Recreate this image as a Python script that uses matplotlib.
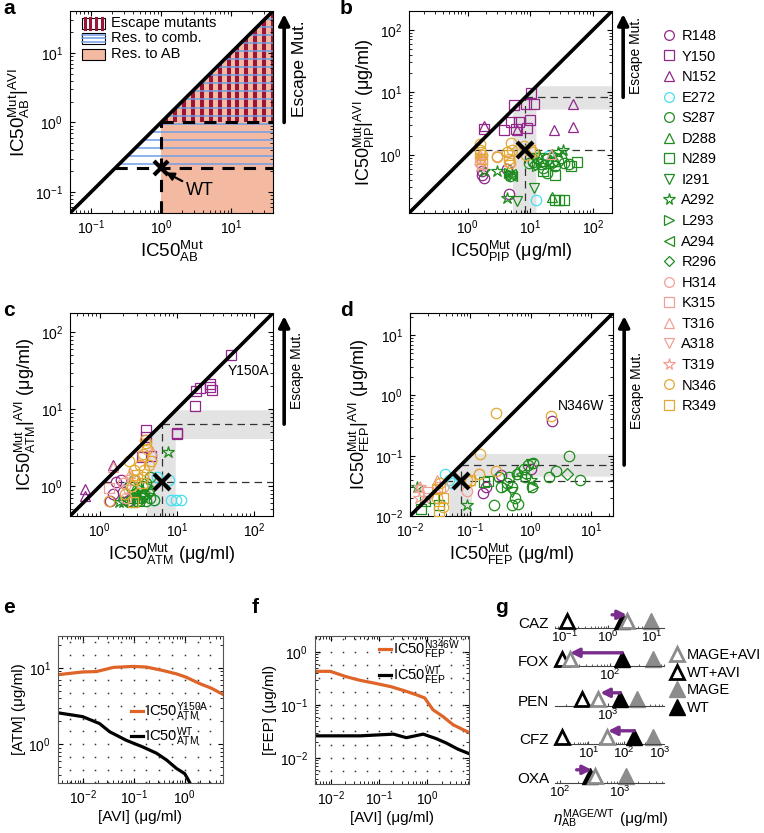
import numpy as np
import matplotlib
matplotlib.use("Agg")
import matplotlib.pyplot as plt
from matplotlib.lines import Line2D
from matplotlib.patches import Polygon, Rectangle
from matplotlib.ticker import LogLocator

plt.rcParams['font.family'] = ['Liberation Sans', 'DejaVu Sans']
plt.rcParams['mathtext.fontset'] = 'custom'
plt.rcParams['mathtext.rm'] = 'Liberation Sans'
plt.rcParams['mathtext.it'] = 'Liberation Sans:italic'
plt.rcParams['mathtext.bf'] = 'Liberation Sans:bold'
plt.rcParams['xtick.direction'] = 'in'
plt.rcParams['ytick.direction'] = 'in'
plt.rcParams['xtick.top'] = True
plt.rcParams['ytick.right'] = True
plt.rcParams['xtick.labelsize'] = 10
plt.rcParams['ytick.labelsize'] = 10
plt.rcParams['xtick.major.pad'] = 4
plt.rcParams['ytick.major.pad'] = 5
plt.rcParams['axes.linewidth'] = 0.8

# ---- mutants legend (panels b-d)
mutants = ["R148", "Y150", "N152", "E272", "S287", "D288", "N289", "I291", "A292", "L293",
           "A294", "R296", "H314", "K315", "T316", "A318", "T319", "N346", "R349"]
mut_markers = ['o', 's', '^', 'o', 'o', '^', 's', 'v', '*', '>', '<', 'D', 'o', 's', '^', 'v', '*', 'o', 's']
PUR, CYA, GRN, PNK, GLD = '#92268A', '#45E0F0', '#1E8C1E', '#F0A096', '#E3A832'
mut_colors = [PUR] * 3 + [CYA] + [GRN] * 8 + [PNK] * 5 + [GLD] * 2

# ---- panel a (schematic)
a_lim = (0.05, 40)
a_wt = (1.0, 0.22)

# ---- panel b: PIP
pip_lim = (0.117, 200)
pip_wt = (8.3, 1.2)
pip_band = (5.3, 12.5)
pip_pts = [
    ("Y150", 10.2, 9.7), ("Y150", 8.5, 6.6), ("Y150", 11.5, 6.4), ("Y150", 5.4, 6.3), ("Y150", 4.9, 3.3),
    ("Y150", 6.6, 3.3), ("Y150", 10, 3.6), ("Y150", 8.7, 2.7), ("Y150", 3.8, 2.5), ("Y150", 6.0, 2.6),
    ("Y150", 1.8, 2.6),
    ("N152", 1.8, 2.9), ("N152", 47, 6.6), ("N152", 24, 2.5), ("N152", 48, 2.8), ("N152", 6.1, 2.5),
    ("R148", 1.7, 0.55), ("R148", 1.7, 0.48), ("R148", 1.8, 0.42), ("R148", 4.6, 0.24), ("R148", 4.3, 0.6),
    ("E272", 12.5, 0.19), ("E272", 19, 0.95),
    ("S287", 11, 0.77), ("S287", 14.7, 0.7), ("S287", 18.5, 0.87), ("S287", 23, 0.77), ("S287", 28, 0.8),
    ("S287", 35, 0.74), ("S287", 41, 0.7), ("S287", 18.5, 0.52), ("S287", 13, 0.9), ("S287", 16, 0.62),
    ("S287", 9.5, 0.75), ("S287", 25, 0.65), ("S287", 31, 0.9), ("S287", 4.8, 0.45),
    ("D288", 22, 0.21), ("D288", 20, 0.8), ("D288", 4.5, 0.6),
    ("N289", 56, 0.77), ("N289", 25, 0.48), ("N289", 25, 0.19), ("N289", 29, 0.19), ("N289", 34, 0.19),
    ("N289", 45, 0.65), ("N289", 16, 0.55),
    ("I291", 11.5, 0.29), ("I291", 6.1, 0.18), ("I291", 4.6, 0.45), ("I291", 12, 0.9),
    ("A292", 4.2, 0.2), ("A292", 33, 1.2), ("A292", 28, 1.1), ("A292", 14, 1.0), ("A292", 3.0, 0.54),
    ("A292", 1.8, 0.55), ("A292", 22, 1.0),
    ("L293", 4.9, 0.47), ("L293", 4.6, 0.52), ("L293", 13, 0.65),
    ("A294", 4.9, 0.5), ("A294", 5.1, 0.45), ("A294", 15, 0.7),
    ("R296", 22, 0.75), ("R296", 12, 0.7),
    ("H314", 1.6, 0.9), ("H314", 3.0, 0.95), ("H314", 1.6, 0.75),
    ("K315", 1.7, 0.7), ("K315", 4.5, 0.8),
    ("T316", 1.6, 1.0), ("T316", 21, 1.03),
    ("A318", 1.7, 0.8), ("T319", 1.6, 0.65),
    ("N346", 1.6, 1.5), ("N346", 1.6, 1.2), ("N346", 3.0, 0.92), ("N346", 4.9, 1.55), ("N346", 5.2, 1.2),
    ("N346", 4.5, 0.85), ("N346", 7.9, 1.4), ("N346", 11, 1.1), ("N346", 4.2, 1.1), ("N346", 4.7, 0.75),
    ("N346", 1.7, 1.0), ("N346", 8.5, 1.0),
    ("R349", 1.6, 1.1), ("R349", 4.5, 1.0), ("R349", 10, 1.2), ("R349", 1.7, 0.85),
]

# ---- panel c: ATM
atm_lim = (0.41, 178)
atm_wt = (6.4, 1.15)
atm_band = (4.1, 9.7)
atm_pts = [
    ("Y150", 51, 50), ("Y150", 18, 17), ("Y150", 20, 19), ("Y150", 27, 21), ("Y150", 29, 18),
    ("Y150", 27, 19.5), ("Y150", 17, 11), ("Y150", 10, 4.9), ("Y150", 10, 4.7), ("Y150", 4.0, 5.3),
    ("Y150", 4.0, 4.4), ("Y150", 4.6, 2.5), ("Y150", 3.5, 2.4),
    ("N152", 0.64, 0.93), ("N152", 0.65, 0.75), ("N152", 1.5, 1.9),
    ("R148", 1.35, 0.65), ("R148", 1.9, 1.2), ("R148", 1.6, 1.15), ("R148", 2.0, 0.85), ("R148", 2.3, 0.65),
    ("R148", 1.5, 0.8),
    ("E272", 8.5, 0.66), ("E272", 9.9, 0.66), ("E272", 11.5, 0.66), ("E272", 8.0, 1.2), ("E272", 5.0, 0.66),
    ("E272", 5.5, 1.3),
    ("S287", 2.5, 0.65), ("S287", 3, 0.65), ("S287", 3.5, 0.7), ("S287", 4, 0.65), ("S287", 4.5, 0.7),
    ("S287", 5, 0.66), ("S287", 3, 0.9), ("S287", 3.5, 1.0), ("S287", 4, 1.1), ("S287", 4.5, 1.3),
    ("S287", 2.5, 1.0), ("S287", 2.8, 1.2), ("S287", 3.8, 0.8),
    ("D288", 3, 0.8), ("D288", 4.5, 0.9),
    ("N289", 2.6, 0.62), ("N289", 3.2, 0.64), ("N289", 2.8, 0.7),
    ("I291", 3.8, 0.7), ("I291", 4.5, 0.8),
    ("A292", 7.7, 2.8), ("A292", 2.0, 0.62), ("A292", 3.5, 0.9), ("A292", 1.8, 0.62),
    ("L293", 3.0, 0.75), ("L293", 4.2, 1.0),
    ("A294", 3.3, 0.8), ("A294", 2.6, 0.85),
    ("R296", 3.6, 0.75),
    ("H314", 2.0, 1.1), ("H314", 2.2, 0.7),
    ("K315", 1.3, 0.95), ("K315", 3.6, 2.5),
    ("T316", 1.5, 1.8), ("T316", 4.8, 2.9), ("T316", 2.5, 1.5),
    ("A318", 2.2, 0.9), ("T319", 2.5, 1.3),
    ("N346", 4.0, 3.6), ("N346", 4.1, 3.0), ("N346", 3.6, 2.6), ("N346", 4.6, 2.1), ("N346", 3.3, 1.9),
    ("N346", 2.8, 1.6), ("N346", 2.9, 1.2), ("N346", 3.8, 1.6), ("N346", 3.6, 1.3), ("N346", 1.3, 0.65),
    ("N346", 2.1, 0.8), ("N346", 4.3, 1.9), ("N346", 2.4, 2.1), ("N346", 3.9, 4.0), ("N346", 2.6, 1.0),
    ("R349", 2.7, 0.62), ("R349", 3.5, 1.1), ("R349", 3.0, 1.4),
]

# ---- panel d: FEP
fep_lim = (0.01, 23.4)
fep_wt = (0.07, 0.038)
fep_band = (0.045, 0.107)
fep_pts = [
    ("N346", 0.27, 0.52), ("N346", 2.2, 0.46), ("N346", 0.147, 0.106), ("N346", 0.27, 0.055),
    ("N346", 0.14, 0.05), ("N346", 0.035, 0.014), ("N346", 0.09, 0.04), ("N346", 0.1, 0.038),
    ("N346", 0.028, 0.02), ("N346", 0.032, 0.035),
    ("R148", 2.25, 0.38), ("R148", 0.16, 0.024), ("R148", 0.18, 0.03), ("R148", 0.32, 0.048), ("R148", 1.0, 0.06),
    ("S287", 4.4, 0.1), ("S287", 1.1, 0.077), ("S287", 2.7, 0.056), ("S287", 2.0, 0.045), ("S287", 6.6, 0.04),
    ("S287", 0.44, 0.045), ("S287", 0.6, 0.05), ("S287", 0.77, 0.06), ("S287", 0.32, 0.03), ("S287", 0.5, 0.03),
    ("S287", 0.56, 0.02), ("S287", 0.63, 0.016), ("S287", 0.5, 0.015), ("S287", 0.25, 0.015),
    ("S287", 1.05, 0.03), ("S287", 0.3, 0.045), ("S287", 0.4, 0.035), ("S287", 0.9, 0.07), ("S287", 0.8, 0.045),
    ("R296", 4.0, 0.05),
    ("I291", 1.0, 0.072), ("I291", 0.5, 0.025),
    ("L293", 1.1, 0.03), ("L293", 0.4, 0.03),
    ("A292", 0.088, 0.015), ("A292", 1.0, 0.04), ("A292", 0.013, 0.03),
    ("N289", 0.17, 0.036), ("N289", 0.2, 0.038), ("N289", 0.018, 0.018), ("N289", 0.025, 0.02),
    ("N289", 0.03, 0.015), ("N289", 0.015, 0.013),
    ("A294", 0.7, 0.05), ("D288", 0.6, 0.055),
    ("E272", 0.038, 0.05), ("E272", 0.045, 0.04), ("E272", 0.05, 0.035),
    ("H314", 0.14, 0.05), ("H314", 0.09, 0.026), ("H314", 0.035, 0.03),
    ("K315", 0.031, 0.03), ("K315", 0.02, 0.025),
    ("T316", 0.014, 0.03), ("T316", 0.028, 0.04),
    ("T319", 0.0147, 0.03), ("T319", 0.014, 0.02), ("A318", 0.02, 0.02),
    ("R349", 0.03, 0.012), ("R349", 0.035, 0.02), ("R349", 0.028, 0.028), ("R349", 0.1, 0.04),
]

# ---- panel e: ATM vs AVI
e_xlim, e_ylim = (0.0033, 5.6), (0.31, 26)
e_avi = [0.0033, 0.01, 0.0186, 0.04, 0.098, 0.178, 0.37, 0.69, 1.07, 1.95, 3.3, 5.5]
e_mut = [8.1, 8.8, 8.9, 10.1, 10.4, 10.2, 9.2, 8.3, 7.5, 6.2, 5.4, 4.5]
e_avi_wt = [0.0033, 0.01, 0.0214, 0.034, 0.072, 0.15, 0.28, 0.44, 0.69, 1.0, 1.17, 1.26]
e_wt = [2.57, 2.29, 1.86, 1.45, 1.12, 0.92, 0.76, 0.62, 0.48, 0.41, 0.34, 0.31]

# ---- panel f: FEP vs AVI
f_xlim, f_ylim = (0.0047, 7.4), (0.0032, 2.0)
f_avi = [0.0047, 0.0098, 0.021, 0.041, 0.076, 0.18, 0.37, 0.6, 0.89, 1.32, 2.14, 3.47, 7.4]
f_mut = [0.43, 0.43, 0.34, 0.29, 0.26, 0.22, 0.18, 0.155, 0.135, 0.081, 0.06, 0.042, 0.03]
f_avi_wt = [0.0047, 0.041, 0.2, 0.37, 0.83, 1.55, 2.5, 4.4, 7.4]
f_wt = [0.026, 0.026, 0.028, 0.024, 0.028, 0.023, 0.019, 0.0145, 0.012]

# ---- panel g
g_rows = ["CAZ", "FOX", "PEN", "CFZ", "OXA"]
g_xlim = [(0.06, 19.5), (12, 800), (130, 8500), (1.15, 1350), (83, 5400)]
g_wt = [2.1, 158, 1580, 195, 316]
g_mage = [10, 520, 3040, 650, 1260]
g_wt_avi = [0.115, 16, 370, 1.8, None]
g_mage_avi = [2.7, 21.5, 680, 34, 385]
g_arrow_from = [1.24, 158, 1580, 195, 190]
g_arrow_to = [2.7, 21.5, 740, 36, 340]

W, H = 764, 833
fig = plt.figure(figsize=(W / 100, H / 100), dpi=100)


def box(l, t, r, b):
    return fig.add_axes([l / W, 1 - b / H, (r - l) / W, (b - t) / H])


def escape_arrow(ax, lim, xw, fs=10, tx=1.12):
    f = (np.log10(xw) - np.log10(lim[0])) / (np.log10(lim[1]) - np.log10(lim[0]))
    ax.annotate('', xy=(1.055, 0.985), xytext=(1.055, f), xycoords='axes fraction',
                arrowprops=dict(arrowstyle='-|>', lw=2.6, color='k', mutation_scale=16,
                                shrinkA=0, shrinkB=0), annotation_clip=False)
    ax.text(tx, (f + 0.985) / 2, 'Escape Mut.', rotation=90, transform=ax.transAxes,
            ha='center', va='center', fontsize=fs)


def draw_points(ax, pts):
    for name, mk, col in zip(mutants, mut_markers, mut_colors):
        xs = [p[1] for p in pts if p[0] == name]
        ys = [p[2] for p in pts if p[0] == name]
        if xs:
            ms = {'*': 9, 'D': 6}.get(mk, 7.5)
            ax.plot(xs, ys, ls='none', marker=mk, ms=ms, mfc='none', mec=col, mew=0.9, zorder=3)


def scatter_panel(ax, pts, lim, wt, band, ab):
    ax.set_xscale('log')
    ax.set_yscale('log')
    ax.set_xlim(lim)
    ax.set_ylim(lim)
    lo, hi = band
    ax.add_patch(Polygon([(lo, lim[0]), (hi, lim[0]), (hi, lo), (lim[1], lo), (lim[1], hi), (hi, hi), (lo, lo)],
                         closed=True, fc='#e3e3e3', ec='none', zorder=0))
    xw, yw = wt
    dkw = dict(color='#333333', lw=0.9, dashes=(6, 4), zorder=1)
    ax.plot([xw, xw], [lim[0], xw], **dkw)
    ax.plot([xw, lim[1]], [xw, xw], **dkw)
    ax.plot([yw, lim[1]], [yw, yw], **dkw)
    draw_points(ax, pts)
    ax.plot(lim, lim, color='k', lw=2.6, zorder=4, solid_capstyle='butt')
    ax.plot([xw], [yw], marker='x', ms=11, mew=3, color='k', zorder=5)
    ax.set_xlabel(r'$\mathrm{IC50}^{\mathrm{Mut}}_{\mathrm{%s}}$ (μg/ml)' % ab, fontsize=13, labelpad=1)
    ax.set_ylabel(r'$\mathrm{IC50}^{\mathrm{Mut}}_{\mathrm{%s}}|^{\mathrm{AVI}}$ (μg/ml)' % ab, fontsize=13, labelpad=2)
    escape_arrow(ax, lim, xw)


# ================= panel a
ax = box(70, 11, 273, 213)
ax.set_xscale('log')
ax.set_yscale('log')
ax.set_xlim(a_lim)
ax.set_ylim(a_lim)
lo, hi = a_lim
xw, yw = a_wt
ax.add_patch(Polygon([(xw, lo), (hi, lo), (hi, hi), (xw, xw)], closed=True, fc='#F3B9A1', ec='none', zorder=0))
esc = Polygon([(xw, xw), (hi, xw), (hi, hi)], closed=True, fc='none', ec='none')
comb = Polygon([(yw, yw), (hi, yw), (hi, hi)], closed=True, fc='none', ec='none')
ax.add_patch(esc)
ax.add_patch(comb)
for xv in 10 ** np.arange(0.07, 1.7, 0.128):
    ln = ax.axvline(xv, color='#9A1538', lw=2.9, zorder=1)
    ln.set_clip_path(esc)
for yv in 10 ** np.arange(np.log10(yw) + 0.06, 1.7, 0.116):
    ln = ax.axhline(yv, color='#6E9EE6', lw=1.1, zorder=2)
    ln.set_clip_path(comb)
dk = dict(color='k', lw=2.2, dashes=(4, 3), zorder=3)
ax.plot([xw, xw], [lo, xw], **dk)
ax.plot([yw, hi], [yw, yw], **dk)
ax.plot([xw, hi], [xw, xw], **dk)
ax.plot(a_lim, a_lim, color='k', lw=2.6, zorder=4)
ax.plot([xw], [yw], marker='x', ms=10, mew=3, color='k', zorder=5)
ax.annotate('WT', xy=(1.08, 0.2), xytext=(2.3, 0.105), fontsize=13, va='center',
            arrowprops=dict(arrowstyle='-|>', color='k', lw=1.6, mutation_scale=12, shrinkA=1, shrinkB=2))
ax.set_xlabel(r'$\mathrm{IC50}^{\mathrm{Mut}}_{\mathrm{AB}}$', fontsize=13.5, labelpad=1)
ax.set_ylabel(r'$\mathrm{IC50}^{\mathrm{Mut}}_{\mathrm{AB}}|^{\mathrm{AVI}}$', fontsize=13.5, labelpad=2)
escape_arrow(ax, a_lim, xw, fs=12.5, tx=1.13)
# legend of panel a
leg_rows = [("Escape mutants", 0.94), ("Res. to comb.", 0.866), ("Res. to AB", 0.785)]
for i, (lab, yc) in enumerate(leg_rows):
    x0, x1, h = 0.06, 0.17, 0.055
    fc = '#F3B9A1' if i == 2 else 'white'
    ax.add_patch(Rectangle((x0, yc - h / 2), x1 - x0, h, transform=ax.transAxes, fc=fc, ec='k', lw=0.8, zorder=6))
    if i == 0:
        for xs in np.linspace(x0 + 0.012, x1 - 0.012, 4):
            ax.add_line(Line2D([xs, xs], [yc - h / 2, yc + h / 2], transform=ax.transAxes, color='#9A1538', lw=2.2, zorder=7))
    if i == 1:
        for ys in np.linspace(yc - h / 2 + 0.01, yc + h / 2 - 0.01, 3):
            ax.add_line(Line2D([x0, x1], [ys, ys], transform=ax.transAxes, color='#6E9EE6', lw=1.1, zorder=7))
    ax.text(0.2, yc, lab, transform=ax.transAxes, va='center', fontsize=10.5, zorder=7)

# ================= panels b-d
ax = box(409, 11, 612, 213)
scatter_panel(ax, pip_pts, pip_lim, pip_wt, pip_band, 'PIP')
ax = box(70, 313, 273, 516)
scatter_panel(ax, atm_pts, atm_lim, atm_wt, atm_band, 'ATM')
ax.text(46, 31, 'Y150A', fontsize=10, va='center')
ax = box(410, 313, 613, 516)
scatter_panel(ax, fep_pts, fep_lim, fep_wt, fep_band, 'FEP')
ax.text(2.8, 0.66, 'N346W', fontsize=10, va='center')

handles = [Line2D([], [], ls='none', marker=m, mfc='none', mec=c, mew=0.9,
                  ms={'*': 8.5, 'D': 5.5}.get(m, 7)) for m, c in zip(mut_markers, mut_colors)]
fig.legend(handles, mutants, loc='upper left', bbox_to_anchor=(661 / W, 1 - 29 / H), frameon=False,
           fontsize=10.5, handletextpad=0.3, labelspacing=0.45, handlelength=1.1, borderaxespad=0, borderpad=0)


# ================= panels e, f
def dose_panel(ax, xlim, ylim, ystep):
    ax.set_xscale('log')
    ax.set_yscale('log')
    ax.set_xlim(xlim)
    ax.set_ylim(ylim)
    # dotted background grid (regular lattice of dots)
    gx = 10 ** np.arange(np.ceil(np.log10(xlim[0]) * 4) / 4, np.log10(xlim[1]), 0.25)
    gy = 10 ** np.arange(np.ceil(np.log10(ylim[0]) / ystep) * ystep, np.log10(ylim[1]), ystep)
    GX, GY = np.meshgrid(gx, gy)
    ax.plot(GX.ravel(), GY.ravel(), ls='none', marker='s', ms=1.1, mew=0, color='#333333', zorder=0)
    for s in ax.spines.values():
        s.set_color('#555555')
    ax.set_xlabel('[AVI] (μg/ml)', fontsize=11, labelpad=2)


ax = box(58, 636, 223, 783)
dose_panel(ax, e_xlim, e_ylim, 1 / 6)
ax.plot(e_avi, e_mut, color='#DE6428', lw=2.3, label=r'$\mathrm{IC50}^{\mathrm{Y150A}}_{\mathrm{ATM}}$')
ax.plot(e_avi_wt, e_wt, color='k', lw=2.3, label=r'$\mathrm{IC50}^{\mathrm{WT}}_{\mathrm{ATM}}$')
ax.set_ylabel('[ATM] (μg/ml)', fontsize=11, labelpad=2)
ax.legend(loc='center left', bbox_to_anchor=(0.4, 0.4), frameon=False, fontsize=10.5,
          handlelength=0.8, handletextpad=0.15, labelspacing=0.2, borderpad=0)

ax = box(315, 636, 469, 784)
dose_panel(ax, f_xlim, f_ylim, 0.25)
ax.plot(f_avi, f_mut, color='#DE6428', lw=2.3, label=r'$\mathrm{IC50}^{\mathrm{N346W}}_{\mathrm{FEP}}$')
ax.plot(f_avi_wt, f_wt, color='k', lw=2.3, label=r'$\mathrm{IC50}^{\mathrm{WT}}_{\mathrm{FEP}}$')
ax.set_ylabel('[FEP] (μg/ml)', fontsize=11, labelpad=2)
ax.legend(loc='center left', bbox_to_anchor=(0.37, 0.82), frameon=False, fontsize=10.5,
          handlelength=0.8, handletextpad=0.15, labelspacing=0.2, borderpad=0)

# ================= panel g
GRY = '#8C8C8C'
base_y = [628, 666, 706, 744, 783]
for i, name in enumerate(g_rows):
    ax = box(555, base_y[i] - 22, 664, base_y[i])
    ax.set_xscale('log')
    ax.xaxis.set_major_locator(LogLocator(base=10, numticks=12))
    ax.set_xlim(g_xlim[i])
    ax.set_ylim(0, 1)
    for s in ['left', 'right', 'top']:
        ax.spines[s].set_visible(False)
    ax.spines['bottom'].set_color('#444444')
    ax.spines['bottom'].set_linewidth(0.8)
    ax.patch.set_alpha(0)
    ax.tick_params(axis='y', left=False, right=False, labelleft=False)
    ax.tick_params(axis='x', top=False, which='both', labelsize=9.5, pad=1, length=2, color='#444444')
    ax.tick_params(axis='x', which='minor', length=1.5)
    tri = dict(marker='^', ls='none', clip_on=False)
    ax.plot([g_mage[i]], [0.3], color=GRY, ms=11, **tri, zorder=2)
    ax.plot([g_wt[i]], [0.3], color='k', ms=11, **tri, zorder=3)
    if g_wt_avi[i] is not None:
        ax.plot([g_wt_avi[i]], [0.3], mfc='white', mec='k', mew=2.0, ms=10, **tri, zorder=4)
    ax.plot([g_mage_avi[i]], [0.3], mfc='white', mec=GRY, mew=2.0, ms=10, **tri, zorder=5)
    ax.annotate('', xy=(g_arrow_to[i], 0.6), xytext=(g_arrow_from[i], 0.6),
                arrowprops=dict(arrowstyle='-|>', color='#7B2D8E', lw=2.4, mutation_scale=13,
                                shrinkA=0, shrinkB=0), annotation_clip=False, zorder=6)
    fig.text(549 / W, 1 - (base_y[i] - 4) / H, name, ha='right', va='center', fontsize=11)

gh = [Line2D([], [], marker='^', ms=10, ls='none', mfc='white', mec=GRY, mew=2.0),
      Line2D([], [], marker='^', ms=10, ls='none', mfc='white', mec='k', mew=2.0),
      Line2D([], [], marker='^', ms=11, ls='none', color=GRY),
      Line2D([], [], marker='^', ms=11, ls='none', color='k')]
fig.legend(gh, ["MAGE+AVI", "WT+AVI", "MAGE", "WT"], loc='upper left', bbox_to_anchor=(668 / W, 1 - 648 / H),
           frameon=False, fontsize=10.5, handletextpad=0.1, labelspacing=0.25, handlelength=1.2,
           borderaxespad=0, borderpad=0)
fig.text(553 / W, 1 - 823 / H, r'$\eta^{\mathrm{MAGE/WT}}_{\mathrm{AB}}$', fontsize=11, va='baseline')
fig.text(620 / W, 1 - 823 / H, '(μg/ml)', fontsize=11, va='baseline')

# panel letters
for lab, x, y in [('a', 3, 14), ('b', 340, 14), ('c', 3, 316), ('d', 340, 316),
                  ('e', 3, 613), ('f', 252, 613), ('g', 495, 613)]:
    fig.text(x / W, 1 - y / H, lab, fontsize=15, fontweight='bold', va='baseline')

fig.savefig('out.png', dpi=100)
